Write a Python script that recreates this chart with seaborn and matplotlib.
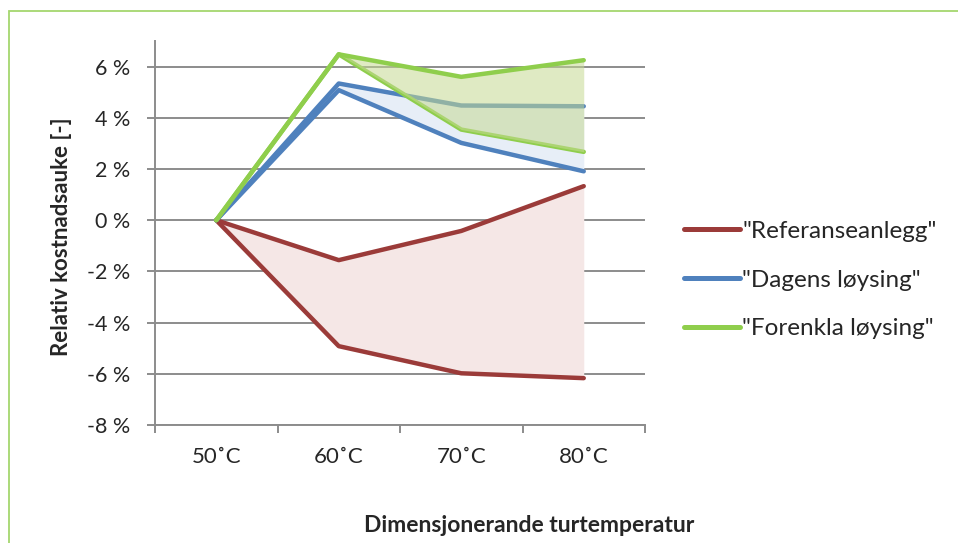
import numpy as np
import pandas as pd
import matplotlib.pyplot as plt
from matplotlib.lines import Line2D
from matplotlib.patches import Rectangle
import seaborn as sns

# Data (relative cost increase in %)
temps = ["50˚C", "60˚C", "70˚C", "80˚C"]
ref_high = [0.0, -1.56, -0.42, 1.33]
ref_low = [0.0, -4.92, -5.98, -6.17]
dag_high = [0.0, 5.34, 4.48, 4.45]
dag_low = [0.0, 5.08, 3.02, 1.91]
for_high = [0.0, 6.48, 5.60, 6.25]
for_low = [0.0, 6.48, 3.54, 2.67]
labels = ['"Referanseanlegg"', '"Dagens løysing"', '"Forenkla løysing"']

sns.set_style("white")
plt.rcParams['font.family'] = ['Lato', 'DejaVu Sans']

red = "#9b3b39"
blue = "#4f81bd"
green = "#8fce4c"

fig = plt.figure(figsize=(9.58, 5.43), dpi=100)
ax = fig.add_axes([155 / 958, 1 - 425 / 543, 490 / 958, 384 / 543])

x = np.arange(len(temps))

# shaded ranges + lines
ax.fill_between(x, ref_low, ref_high, color="#f5e7e6", lw=0, zorder=1)
sns.lineplot(x=x, y=ref_high, color=red, lw=3.2, ax=ax, zorder=3)
sns.lineplot(x=x, y=ref_low, color=red, lw=3.2, ax=ax, zorder=3)

ax.fill_between(x, dag_low, dag_high, color="#e7eef7", lw=0, zorder=1)
sns.lineplot(x=x, y=dag_high, color=blue, lw=3.2, ax=ax, zorder=3)
sns.lineplot(x=x, y=dag_low, color=blue, lw=3.2, ax=ax, zorder=3)

sns.lineplot(x=x, y=for_low, color=green, lw=3.2, ax=ax, zorder=3)
ax.fill_between(x, for_low, for_high, color="#c5d993", alpha=0.55, lw=0, zorder=4)
sns.lineplot(x=x, y=for_high, color=green, lw=3.2, ax=ax, zorder=5)

ax.set_xlim(-0.5, 3.5)
ax.set_ylim(-8, 7)
ax.set_yticks(np.arange(-8, 7, 2))
ax.set_yticklabels([f"{v} %" for v in range(-8, 7, 2)])
ax.set_xticks(x)
ax.set_xticklabels(temps)
ax.set_xticks(np.arange(-0.5, 3.6, 1), minor=True)

ax.grid(axis="y", color="#8c8c8c", lw=1.4, zorder=0)
ax.set_axisbelow(True)
for s in ["top", "right"]:
    ax.spines[s].set_visible(False)
for s in ["left", "bottom"]:
    ax.spines[s].set_color("#8c8c8c")
    ax.spines[s].set_linewidth(1.4)

ax.tick_params(axis="y", which="major", length=6, width=1.4, color="#8c8c8c",
               direction="out", labelsize=15.5, pad=12, left=True)
ax.tick_params(axis="x", which="major", length=0, labelsize=16, pad=16)
ax.tick_params(axis="x", which="minor", length=6, width=1.4, color="#8c8c8c",
               direction="out", bottom=True)

ax.set_xlabel("")
ax.set_ylabel("Relativ kostnadsauke [-]", fontsize=16, fontweight="bold")
ax.yaxis.set_label_coords(-0.19, 0.49)
ax.yaxis.label.set_va("center")
fig.text(529 / 958, 1 - 525 / 543, "Dimensjonerande turtemperatur",
         ha="center", va="center", fontsize=16.5, fontweight="bold")

handles = [Line2D([], [], color=c, lw=3.6, solid_capstyle="round") for c in [red, blue, green]]
fig.legend(handles, labels, loc="center left", bbox_to_anchor=(684 / 958, 1 - 280 / 543),
           frameon=False, fontsize=17.5, handlelength=2.3, handletextpad=0.1,
           labelspacing=1.15, borderpad=0, borderaxespad=0)

# light green chart border
fig.patches.append(Rectangle((9 / 958, -0.1), 1.2, 1 - 11 / 543 + 0.1, transform=fig.transFigure,
                             fill=False, edgecolor="#a5d76e", lw=1.3))

fig.savefig("out.png", dpi=100)
